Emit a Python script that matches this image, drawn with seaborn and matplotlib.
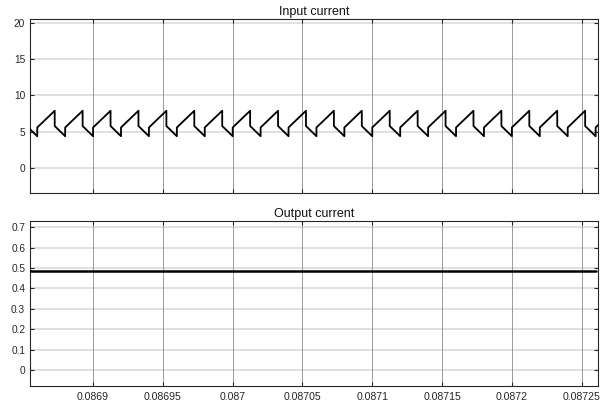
import matplotlib
matplotlib.use("Agg")
import matplotlib.pyplot as plt
import seaborn as sns
import pandas as pd

# ---- data ----
trough_times = [0.08684, 0.08686, 0.08688, 0.08690, 0.08692, 0.08694, 0.08696,
                0.08698, 0.08700, 0.08702, 0.08704, 0.08706, 0.08708, 0.08710,
                0.08712, 0.08714, 0.08716, 0.08718, 0.08720, 0.08722, 0.08724,
                0.08726]
rise_time = 0.0000125      # trough -> peak
trough_val = 4.4
jump_val = 5.6             # level after vertical jump at trough
peak_val = 7.9
drop_val = 5.8             # level after vertical drop at peak

out_t = [0.08685, 0.08726]
out_val = [0.487, 0.487]

top_yticks = [0, 5, 10, 15, 20]
bot_yticks = [0, 0.1, 0.2, 0.3, 0.4, 0.5, 0.6, 0.7]
xticks = [0.0869, 0.08695, 0.087, 0.08705, 0.0871, 0.08715, 0.0872, 0.08725]
xtick_labels = ["0.0869", "0.08695", "0.087", "0.08705", "0.0871",
                "0.08715", "0.0872", "0.08725"]

# build vertex table
ts, vs = [], []
for t in trough_times:
    ts += [t, t, t + rise_time, t + rise_time]
    vs += [trough_val, jump_val, peak_val, drop_val]
df_in = pd.DataFrame({"t": ts, "i": vs})
df_out = pd.DataFrame({"t": out_t, "i": out_val})

sns.set_style("white")
plt.rcParams['font.family'] = ['Liberation Sans', 'DejaVu Sans']

fig = plt.figure(figsize=(6.0, 4.01), dpi=100)
ax1 = fig.add_axes([30/600, 1-193/401, 568/600, (193-19)/401])
ax2 = fig.add_axes([30/600, 1-386/401, 568/600, (386-220.7)/401])

xlim = (0.0868548, 0.0872617)

def style(ax, yticks, ylim, title, labels):
    ax.set_xlim(*xlim)
    ax.set_ylim(*ylim)
    ax.set_yticks(yticks)
    ax.set_xticks(xticks)
    if labels:
        ax.set_xticklabels(xtick_labels)
    else:
        ax.set_xticklabels([])
    ax.set_yticklabels([("%g" % v) for v in yticks])
    for y in yticks:
        ax.axhline(y, color="#dadada", lw=1.2, zorder=0)
    for x in xticks:
        ax.axvline(x, color="#8a8a8a", lw=0.6, zorder=0)
    ax.tick_params(direction="in", length=3, width=0.8, colors="#262626",
                   labelsize=7.3, top=True, right=True, bottom=True, left=True,
                   pad=3.5)
    ax.tick_params(axis="x", labelsize=7.6, pad=4)
    for s in ax.spines.values():
        s.set_color("#262626")
        s.set_linewidth(0.8)
    ax.set_xlabel("")
    ax.set_ylabel("")
    ax.set_title(title, fontsize=9, pad=3, color="#111111")

sns.lineplot(data=df_in, x="t", y="i", ax=ax1, sort=False, estimator=None,
             color="black", lw=1.3, zorder=3)
style(ax1, top_yticks, (-3.4, 20.5), "Input current", False)

sns.lineplot(data=df_out, x="t", y="i", ax=ax2, sort=False, estimator=None,
             color="black", lw=1.8, zorder=3)
style(ax2, bot_yticks, (-0.078, 0.732), "Output current", True)

fig.savefig("out.png", dpi=100)
